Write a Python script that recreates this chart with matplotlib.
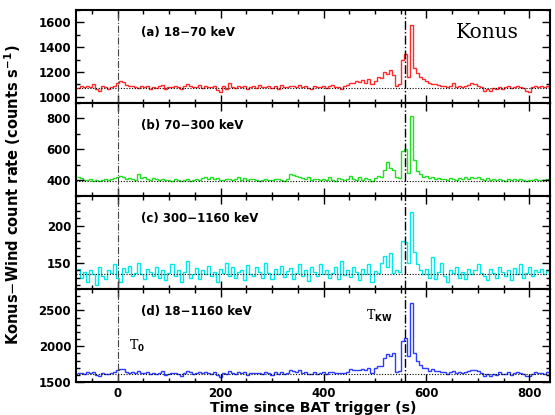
import numpy as np
import matplotlib
matplotlib.use("Agg")
import matplotlib.pyplot as plt
from matplotlib.ticker import MultipleLocator

# ---- data ----
t_start = -80.0
bin_width = 5.888
t_bat = 0.0
t_kw = 558.0

rate_18_70 = [
    1070, 1085, 1075, 1090, 1080, 1100, 1060, 1050, 1085, 1075,
    1065, 1080, 1090, 1115, 1125, 1120, 1095, 1085, 1090, 1080,
    1070, 1085, 1075, 1090, 1060, 1080, 1070, 1085, 1095, 1065,
    1075, 1080, 1090, 1075, 1060, 1085, 1100, 1090, 1075, 1080,
    1095, 1070, 1085, 1080, 1075, 1090, 1055, 1040, 1085, 1060,
    1110, 1080, 1070, 1085, 1075, 1090, 1065, 1080, 1085, 1070,
    1095, 1075, 1080, 1090, 1070, 1085, 1060, 1095, 1080, 1075,
    1090, 1085, 1080, 1095, 1075, 1090, 1070, 1060, 1085, 1075,
    1080, 1090, 1070, 1085, 1095, 1080, 1075, 1060, 1090, 1095,
    1115, 1110, 1125, 1120, 1135, 1110, 1145, 1100, 1130, 1160,
    1150, 1200, 1185, 1215, 1175, 1090, 1100, 1300, 1345, 1160,
    1575, 1230, 1190, 1160, 1140, 1125, 1110, 1100, 1105, 1095,
    1085, 1090, 1080, 1085, 1110, 1080, 1090, 1075, 1085, 1095,
    1110, 1105, 1090, 1080, 1050, 1060, 1045, 1070, 1065, 1080,
    1060, 1075, 1085, 1070, 1080, 1090, 1075, 1070, 1045, 1040,
    1075, 1090, 1080, 1085, 1075, 1090, 1080,
]
rate_70_300 = [
    420, 415, 405, 400, 410, 398, 405, 395, 400, 410,
    402, 408, 415, 425, 430, 420, 412, 418, 410, 405,
    440, 415, 420, 410, 405, 418, 408, 402, 412, 400,
    405, 398, 410, 402, 395, 400, 408, 398, 405, 410,
    402, 415, 420, 410, 425, 408, 415, 405, 400, 412,
    408, 402, 410, 420, 405, 415, 400, 408, 412, 405,
    398, 405, 410, 402, 400, 408, 412, 404, 398, 410,
    440, 435, 430, 425, 415, 410, 420, 405, 412, 408,
    400, 410, 405, 420, 402, 398, 415, 408, 400, 412,
    430, 410, 405, 425, 400, 418, 408, 395, 415, 430,
    420, 470, 520, 480, 470, 420, 415, 590, 600, 450,
    815, 530, 460, 440, 425, 430, 415, 420, 410, 415,
    408, 412, 405, 418, 410, 402, 415, 408, 420, 412,
    425, 418, 422, 410, 405, 415, 400, 408, 402, 410,
    405, 398, 410, 402, 408, 400, 412, 405, 398, 402,
    404, 410, 400, 405, 402, 412, 408,
]
rate_300_1160 = [
    142, 130, 138, 125, 140, 135, 120, 145, 132, 128,
    140, 136, 148, 130, 125, 143, 138, 146, 132, 137,
    150, 135, 128, 142, 138, 133, 145, 130, 140, 127,
    136, 148, 132, 140, 125, 138, 152, 130, 135, 143,
    128, 140, 135, 146, 132, 138, 125, 142, 137, 150,
    133, 145, 130, 138, 141, 127, 147, 135, 132, 144,
    138, 130, 150, 136, 128, 142, 135, 146, 131, 139,
    143, 128, 137, 149, 133, 140, 126, 145, 138, 132,
    148, 135, 141, 130, 137, 145, 128, 152, 134, 140,
    131, 144, 138, 127, 142, 135, 148, 125, 139, 136,
    150, 160, 145, 164, 136, 140, 138, 180, 178, 150,
    218, 165, 148, 140, 135, 142, 130, 158, 128, 138,
    150, 132, 125, 140, 136, 145, 130, 138, 128, 142,
    135, 140, 148, 137, 132, 127, 142, 136, 130, 145,
    138, 132, 140, 127, 143, 135, 148, 130, 136, 145,
    132, 140, 138, 142, 135, 140, 137,
]
rate_18_1160 = [
    1630, 1625, 1615, 1640, 1630, 1635, 1600, 1590, 1620, 1610,
    1605, 1625, 1645, 1670, 1685, 1680, 1645, 1630, 1640, 1620,
    1660, 1620, 1625, 1640, 1605, 1630, 1615, 1620, 1650, 1595,
    1615, 1625, 1630, 1615, 1580, 1620, 1650, 1640, 1610, 1620,
    1640, 1620, 1635, 1625, 1615, 1640, 1600, 1575, 1625, 1615,
    1650, 1625, 1610, 1645, 1620, 1640, 1600, 1625, 1630, 1620,
    1630, 1610, 1640, 1625, 1600, 1635, 1605, 1645, 1610, 1625,
    1670, 1650, 1645, 1665, 1625, 1640, 1615, 1610, 1635, 1615,
    1630, 1635, 1615, 1635, 1635, 1625, 1620, 1620, 1630, 1640,
    1675, 1665, 1670, 1670, 1675, 1665, 1700, 1620, 1690, 1720,
    1720, 1830, 1885, 1860, 1910, 1640, 1650, 2070, 2120, 1860,
    2610, 1910, 1800, 1740, 1700, 1690, 1660, 1680, 1650, 1650,
    1640, 1635, 1610, 1645, 1655, 1630, 1645, 1620, 1635, 1650,
    1670, 1665, 1660, 1630, 1590, 1605, 1585, 1615, 1600, 1635,
    1605, 1610, 1635, 1600, 1630, 1640, 1620, 1610, 1585, 1580,
    1610, 1640, 1620, 1630, 1615, 1645, 1625,
]

background = [1073, 396, 135, 1613]
labels = ["(a) 18\u221270 keV", "(b) 70\u2212300 keV",
          "(c) 300\u22121160 keV", "(d) 18\u22121160 keV"]
colors = ["#ff2a2a", "#22e022", "#00e8e8", "#2a3cff"]
ylims = [(950, 1700), (300, 900), (115, 240), (1500, 2800)]
major = [200, 200, 50, 500]
minor = [100, 100, 10, 100]
series = [rate_18_70, rate_70_300, rate_300_1160, rate_18_1160]

# ---- figure ----
fig = plt.figure(figsize=(5.55, 4.15), dpi=100)
gs = fig.add_gridspec(4, 1, left=0.137, right=0.991, top=0.976,
                      bottom=0.0795, hspace=0)
axes = [fig.add_subplot(gs[i]) for i in range(4)]

for k, ax in enumerate(axes):
    vals = np.asarray(series[k], dtype=float)
    edges = t_start + bin_width * np.arange(len(vals) + 1)
    ax.stairs(vals, edges, color=colors[k], lw=1.0, baseline=None)
    ax.axhline(background[k], color="black", ls=(0, (1, 1.5)), lw=0.8)
    ax.axvline(t_bat, color="#444444", ls="-.", lw=0.8)
    ax.axvline(t_kw, color="black", ls="-.", lw=1.0)
    ax.set_xlim(-81, 840)
    ax.set_ylim(*ylims[k])
    ax.xaxis.set_major_locator(MultipleLocator(200))
    ax.xaxis.set_minor_locator(MultipleLocator(50))
    ax.yaxis.set_major_locator(MultipleLocator(major[k]))
    ax.yaxis.set_minor_locator(MultipleLocator(minor[k]))
    ax.tick_params(which="both", direction="in", top=True, right=True,
                   width=1.0, labelsize=8.5)
    ax.tick_params(which="major", length=6)
    ax.tick_params(which="minor", length=3)
    for s in ax.spines.values():
        s.set_linewidth(1.5)
    for lab in ax.get_yticklabels():
        lab.set_fontweight("bold")
    ax.text(0.137, 0.76, labels[k], transform=ax.transAxes,
            fontsize=8.5, fontweight="bold", va="center", ha="left")
    if k < 3:
        ax.tick_params(labelbottom=False)

axes[0].text(0.935, 0.76, "Konus", transform=axes[0].transAxes,
             fontsize=14.5, family="DejaVu Serif", ha="right", va="center")
axes[3].text(22, 2000, r"T$_\mathbf{0}$", fontsize=9, family="DejaVu Serif",
             ha="left", va="center")
axes[3].text(535, 2420, r"T$_\mathbf{KW}$", fontsize=9, family="DejaVu Serif",
             ha="right", va="center")

for lab in axes[3].get_xticklabels():
    lab.set_fontweight("bold")
axes[3].set_xlabel("Time since BAT trigger (s)", fontsize=10.2,
                   fontweight="bold", labelpad=1)
fig.text(0.022, 0.53, r"Konus$-$Wind count rate (counts s$^{\mathbf{-1}}$)",
         rotation=90, fontsize=10.5, fontweight="bold", va="center",
         ha="center")

fig.savefig("out.png", dpi=100)
